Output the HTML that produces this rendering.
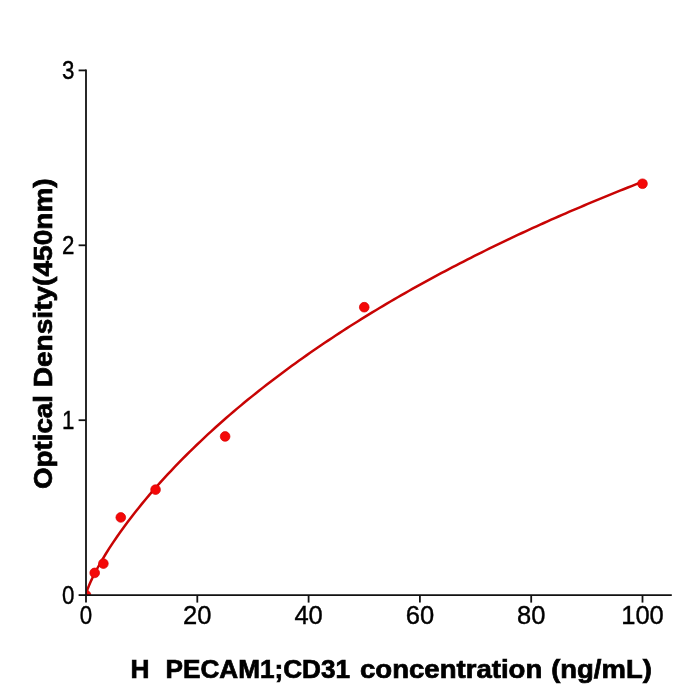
<!DOCTYPE html>
<html><head><meta charset="utf-8"><style>
html,body{margin:0;padding:0;background:#fff;}
svg{display:block;will-change:transform;}
</style></head><body>
<svg width="700" height="700" viewBox="0 0 700 700">
<rect width="700" height="700" fill="#fff"/>
<defs><clipPath id="ax"><rect x="86" y="70" width="586" height="525.1"/></clipPath></defs>
<g clip-path="url(#ax)">
<polyline points="86.00,594.47 86.11,593.86 86.22,593.40 86.33,592.98 86.45,592.58 86.56,592.20 86.67,591.84 87.22,590.17 87.77,588.65 88.32,587.22 88.87,585.85 89.42,584.53 89.97,583.25 90.52,582.01 91.07,580.80 91.62,579.61 92.17,578.45 92.72,577.31 93.28,576.19 93.83,575.08 94.38,573.99 94.93,572.92 95.48,571.86 96.03,570.81 96.58,569.78 97.13,568.76 98.24,566.73 101.90,560.32 105.55,554.26 109.20,548.45 112.85,542.88 116.51,537.49 120.16,532.27 123.81,527.20 127.46,522.27 131.12,517.45 134.77,512.75 138.42,508.16 142.08,503.66 145.73,499.25 149.38,494.93 153.03,490.68 156.69,486.52 160.34,482.42 163.99,478.39 167.64,474.43 171.30,470.53 174.95,466.69 178.60,462.90 182.26,459.17 185.91,455.50 189.56,451.87 193.21,448.29 196.87,444.76 200.52,441.28 204.17,437.84 207.82,434.44 211.48,431.09 215.13,427.77 218.78,424.50 222.44,421.26 226.09,418.06 229.74,414.89 233.39,411.76 237.05,408.66 240.70,405.60 244.35,402.57 248.00,399.57 251.66,396.60 255.31,393.67 258.96,390.76 262.62,387.88 266.27,385.03 269.92,382.20 273.57,379.41 277.23,376.64 280.88,373.89 284.53,371.17 288.19,368.48 291.84,365.81 295.49,363.16 299.14,360.54 302.80,357.94 306.45,355.37 310.10,352.81 313.75,350.28 317.41,347.77 321.06,345.28 324.71,342.81 328.37,340.36 332.02,337.93 335.67,335.52 339.32,333.13 342.98,330.76 346.63,328.41 350.28,326.07 353.93,323.76 357.59,321.46 361.24,319.18 364.89,316.91 368.55,314.67 372.20,312.44 375.85,310.23 379.50,308.03 383.16,305.85 386.81,303.68 390.46,301.53 394.11,299.40 397.77,297.28 401.42,295.18 405.07,293.09 408.73,291.01 412.38,288.95 416.03,286.91 419.68,284.88 423.34,282.86 426.99,280.85 430.64,278.86 434.29,276.88 437.95,274.92 441.60,272.97 445.25,271.03 448.91,269.10 452.56,267.19 456.21,265.29 459.86,263.40 463.52,261.52 467.17,259.65 470.82,257.80 474.47,255.96 478.13,254.13 481.78,252.31 485.43,250.50 489.09,248.70 492.74,246.91 496.39,245.14 500.04,243.37 503.70,241.62 507.35,239.88 511.00,238.14 514.65,236.42 518.31,234.71 521.96,233.00 525.61,231.31 529.27,229.63 532.92,227.95 536.57,226.29 540.22,224.63 543.88,222.99 547.53,221.35 551.18,219.72 554.83,218.11 558.49,216.50 562.14,214.90 565.79,213.31 569.45,211.72 573.10,210.15 576.75,208.59 580.40,207.03 584.06,205.48 587.71,203.94 591.36,202.41 595.01,200.89 598.67,199.37 602.32,197.86 605.97,196.36 609.63,194.87 613.28,193.39 616.93,191.91 620.58,190.44 624.24,188.98 627.89,187.53 631.54,186.08 635.19,184.65 638.85,183.21 642.50,181.79" fill="none" stroke="#c80404" stroke-width="2.5" stroke-linejoin="round"/>
<g fill="#f40808" stroke="#d80000" stroke-width="0.7">
<circle cx="86.00" cy="595.10" r="4.85"/>
<circle cx="94.70" cy="572.89" r="4.85"/>
<circle cx="103.39" cy="563.62" r="4.85"/>
<circle cx="120.78" cy="517.44" r="4.85"/>
<circle cx="155.56" cy="489.64" r="4.85"/>
<circle cx="225.12" cy="436.47" r="4.85"/>
<circle cx="364.25" cy="307.21" r="4.85"/>
<circle cx="642.50" cy="183.74" r="4.85"/>
</g>
</g>
<g stroke="#111" stroke-width="1.8" fill="none">
<line x1="86" y1="69.6" x2="86" y2="596"/>
<line x1="85.1" y1="595.1" x2="671.8" y2="595.1"/>
<line x1="78.6" y1="595.10" x2="86" y2="595.10"/><line x1="78.6" y1="420.20" x2="86" y2="420.20"/><line x1="78.6" y1="245.30" x2="86" y2="245.30"/><line x1="78.6" y1="70.40" x2="86" y2="70.40"/>
<line x1="86.00" y1="595" x2="86.00" y2="602.6"/><line x1="197.30" y1="595" x2="197.30" y2="602.6"/><line x1="308.60" y1="595" x2="308.60" y2="602.6"/><line x1="419.90" y1="595" x2="419.90" y2="602.6"/><line x1="531.20" y1="595" x2="531.20" y2="602.6"/><line x1="642.50" y1="595" x2="642.50" y2="602.6"/>
</g>
<g font-family="Liberation Sans, sans-serif" font-size="25.5" fill="#000" stroke="#000" stroke-width="0.4" text-anchor="end"><text x="74.50" y="603.60" textLength="12.4" lengthAdjust="spacingAndGlyphs">0</text><text x="74.50" y="428.70" textLength="12.4" lengthAdjust="spacingAndGlyphs">1</text><text x="74.50" y="253.80" textLength="12.4" lengthAdjust="spacingAndGlyphs">2</text><text x="74.50" y="78.90" textLength="12.4" lengthAdjust="spacingAndGlyphs">3</text></g>
<g font-family="Liberation Sans, sans-serif" font-size="25.5" fill="#000" stroke="#000" stroke-width="0.4" text-anchor="middle"><text x="86" y="623.7" textLength="12.4" lengthAdjust="spacingAndGlyphs">0</text><text x="197.30" y="623.7">20</text><text x="308.60" y="623.7">40</text><text x="419.90" y="623.7">60</text><text x="531.20" y="623.7">80</text><text x="642.50" y="623.7">100</text></g>
<g font-family="Liberation Sans, sans-serif" font-weight="bold" font-size="25" fill="#000" stroke="#000" stroke-width="0.7"><text x="130.60" y="677.7" textLength="19.00" lengthAdjust="spacingAndGlyphs">H</text><text x="165.50" y="677.7" textLength="184.60" lengthAdjust="spacingAndGlyphs">PECAM1;CD31</text><text x="360.00" y="677.7" textLength="182.30" lengthAdjust="spacingAndGlyphs">concentration</text><text x="551.20" y="677.7" textLength="100.60" lengthAdjust="spacingAndGlyphs">(ng/mL)</text><text transform="translate(52.2,489.00) rotate(-90)" x="0" y="0" textLength="93.90" lengthAdjust="spacingAndGlyphs">Optical</text><text transform="translate(52.2,387.30) rotate(-90)" x="0" y="0" textLength="209.00" lengthAdjust="spacingAndGlyphs">Density(450nm)</text></g>
</svg>
</body></html>
